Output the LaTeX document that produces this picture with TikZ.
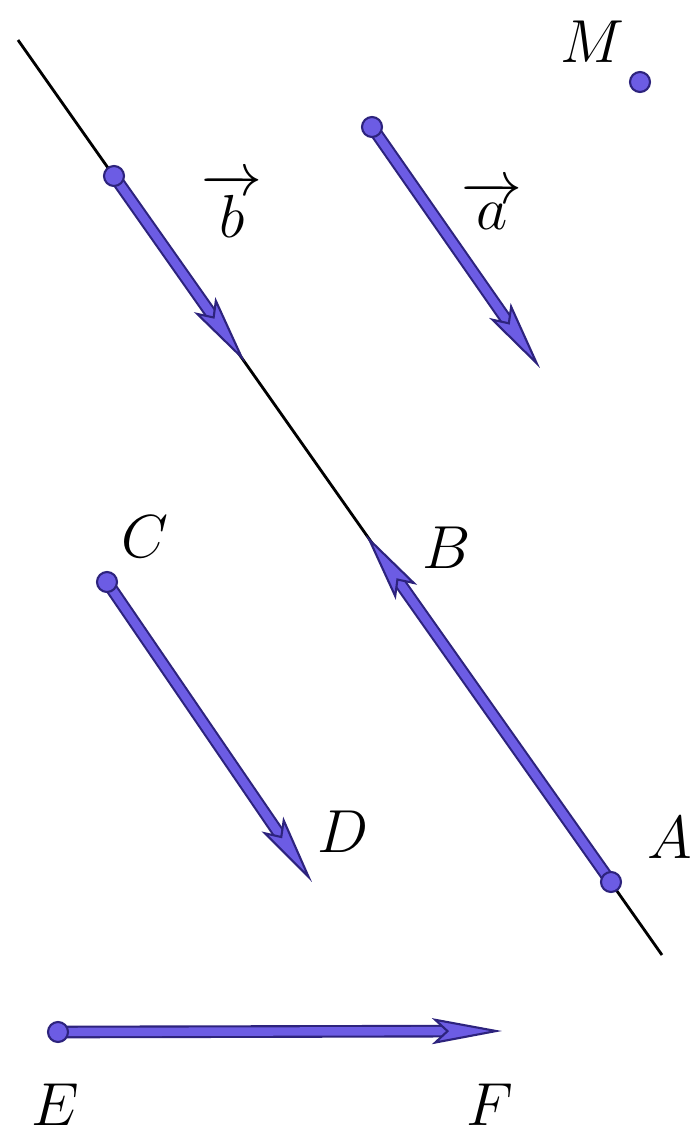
\documentclass[tikz,border=0pt]{standalone}
\usepackage{amsmath}
\usepackage{tikz}
\usetikzlibrary{arrows.meta}
\definecolor{VecBlue}{RGB}{108, 92, 228}
\definecolor{VecDark}{RGB}{45, 35, 125}
\tikzset{
  pt/.style={circle, fill=VecBlue, draw=VecDark, line width=0.6pt, inner sep=0pt, minimum size=0.2cm},
  vec/.style={draw=VecBlue, line width=2.4pt,
    -{Stealth[length=0.7cm, width=0.26cm, inset=0.14cm, fill=VecBlue, color=VecDark, line width=0.6pt]},
    preaction={draw=VecDark, line width=3.6pt, -, shorten >=0.5cm}},
  lbl/.style={font=\fontsize{18}{20}\selectfont, inner sep=1pt}
}
\begin{document}
\begin{tikzpicture}[x=0.01cm, y=-0.01cm]
  \useasboundingbox (0,0) rectangle (694,1136);
  % line through A and B
  \coordinate (l1) at (18,40);
  \coordinate (l2) at (662,955);
  \draw[line width=0.8pt] (l1) -- (l2);
  % points
  \coordinate (M) at (640,82);
  \coordinate (bs) at (114,176);
  \coordinate (be) at (245,362);
  \coordinate (as) at (372,127);
  \coordinate (ae) at (540,368);
  \coordinate (A) at (611,882);
  \coordinate (B) at (366,535);
  \coordinate (C) at (107,582);
  \coordinate (D) at (312,882);
  \coordinate (E) at (58,1032);
  \coordinate (F) at (502,1031);
  % vectors
  \draw[vec] (bs) -- (be);
  \draw[vec] (as) -- (ae);
  \draw[vec] (A) -- (B);
  \draw[vec] (C) -- (D);
  \draw[vec] (E) -- (F);
  % dots
  \node[pt] (pM) at (M) {};
  \node[pt] (pbs) at (bs) {};
  \node[pt] (pas) at (as) {};
  \node[pt] (pA) at (A) {};
  \node[pt] (pC) at (C) {};
  \node[pt] (pE) at (E) {};
  % labels
  \node[lbl] (lM) at (592,42) {$M$};
  \node[lbl] (lb) at (232,205) {$\overrightarrow{b}$};
  \node[lbl] (la) at (492,205) {$\overrightarrow{a}$};
  \node[lbl] (lB) at (447,548) {$B$};
  \node[lbl] (lA) at (670,838) {$A$};
  \node[lbl] (lC) at (145,537) {$C$};
  \node[lbl] (lD) at (343,832) {$D$};
  \node[lbl] (lE) at (55,1105) {$E$};
  \node[lbl] (lF) at (490,1105) {$F$};
\end{tikzpicture}
\end{document}
